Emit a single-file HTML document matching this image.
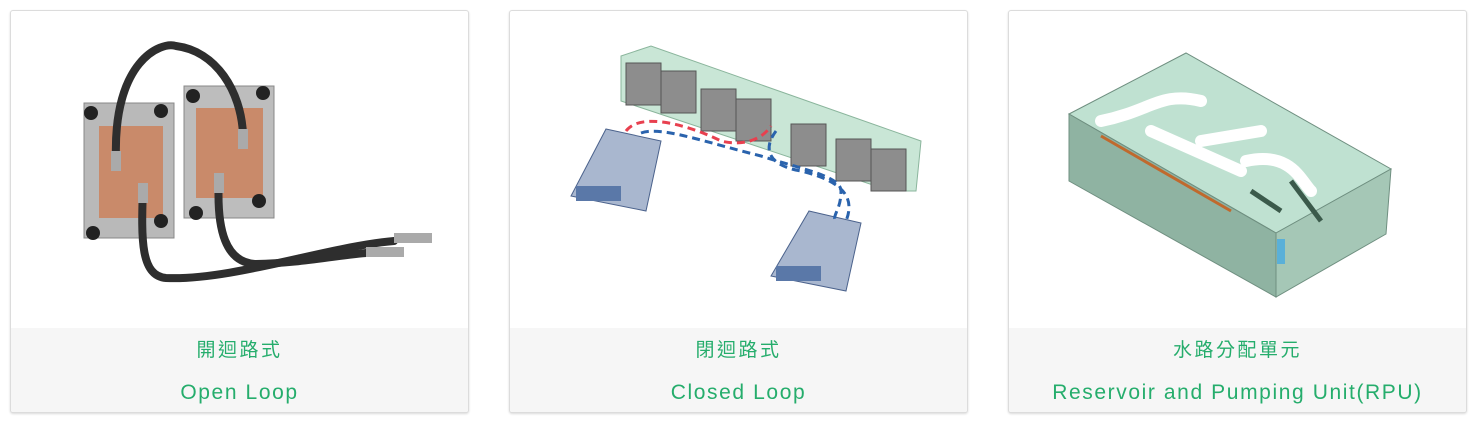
<!DOCTYPE html>
<html><head><meta charset="utf-8"><style>
html,body{margin:0;padding:0;background:#fff;width:1476px;height:422px;overflow:hidden}
.card{position:absolute;top:10px;width:457px;height:401px;border:1px solid #dcdcdc;border-radius:3px;background:#fff;box-shadow:0 1px 2px rgba(0,0,0,.15);overflow:hidden}
.cap{position:absolute;left:0;right:0;top:317px;bottom:0;background:#f6f6f6;text-align:center;color:#25ad6c;font-family:"Liberation Sans","Noto Sans CJK TC",sans-serif}
.zh{position:absolute;left:0;right:0;top:7px;font-size:19px;letter-spacing:2.5px}
.en{position:absolute;left:0;right:0;top:53px;font-size:21px;letter-spacing:1.6px}
svg{position:absolute;left:0;top:0}
</style></head><body>
<div class="card" style="left:10px">
<svg width="457" height="317" viewBox="10 10 457 317">
<rect x="83" y="102" width="90" height="135" fill="#b9b9b9" stroke="#888"/>
<rect x="98" y="125" width="64" height="92" fill="#c98a6a"/>
<rect x="183" y="85" width="90" height="132" fill="#bdbdbd" stroke="#888"/>
<rect x="195" y="107" width="67" height="90" fill="#c98a6a"/>
<g fill="#222"><circle cx="90" cy="112" r="7"/><circle cx="160" cy="110" r="7"/><circle cx="92" cy="232" r="7"/><circle cx="160" cy="220" r="7"/><circle cx="192" cy="95" r="7"/><circle cx="262" cy="92" r="7"/><circle cx="195" cy="212" r="7"/><circle cx="258" cy="200" r="7"/></g>
<g fill="none" stroke="#2e2e2e" stroke-width="8" stroke-linecap="round">
<path d="M115 157 C112 60 160 40 175 45 C215 50 240 90 242 133"/>
<path d="M142 187 C140 240 140 275 165 277 C230 280 330 245 393 240"/>
<path d="M218 177 C215 230 225 262 255 263 C300 262 330 255 365 252"/>
</g>
<g fill="#aaa"><rect x="393" y="232" width="38" height="10"/><rect x="365" y="246" width="38" height="10"/><rect x="110" y="150" width="10" height="20"/><rect x="137" y="182" width="10" height="20"/><rect x="213" y="172" width="10" height="20"/><rect x="237" y="128" width="10" height="20"/></g>
</svg>
<div class="cap"><div class="zh">開迴路式</div><div class="en">Open Loop</div></div></div>

<div class="card" style="left:509px">
<svg width="457" height="317" viewBox="509 10 457 317">
<polygon points="620,55 650,45 920,140 915,190 890,190 620,100" fill="#c9e6d6" stroke="#8ab59c"/>
<g fill="#8d8d8d" stroke="#555"><rect x="625" y="62" width="35" height="42"/><rect x="660" y="70" width="35" height="42"/><rect x="700" y="88" width="35" height="42"/><rect x="735" y="98" width="35" height="42"/><rect x="790" y="123" width="35" height="42"/><rect x="835" y="138" width="35" height="42"/><rect x="870" y="148" width="35" height="42"/></g>
<g fill="#a9b7cf" stroke="#4b628c"><polygon points="605,128 660,140 645,210 570,195"/><polygon points="808,210 860,222 845,290 770,275"/></g>
<g fill="#5a78a8"><rect x="575" y="185" width="45" height="15"/><rect x="775" y="265" width="45" height="15"/></g>
<g fill="none" stroke-width="3" stroke-dasharray="8 5">
<path d="M625 130 C640 110 690 125 720 140 C740 145 760 140 770 125" stroke="#e8404f"/>
<path d="M640 132 C660 125 700 140 760 155 C800 168 840 175 840 190 C840 210 830 215 835 220" stroke="#2a63ad"/>
<path d="M775 130 C760 150 770 165 800 170 C840 180 855 195 845 220" stroke="#2a63ad"/>
</g>
</svg>
<div class="cap"><div class="zh">閉迴路式</div><div class="en">Closed Loop</div></div></div>

<div class="card" style="left:1008px">
<svg width="457" height="317" viewBox="1008 10 457 317">
<polygon points="1068,113 1185,52 1390,168 1275,232" fill="#bfe1d1" stroke="#6f8f80"/>
<polygon points="1068,113 1275,232 1275,296 1068,180" fill="#8fb3a2" stroke="#6f8f80"/>
<polygon points="1275,232 1390,168 1385,233 1275,296" fill="#a5c7b6" stroke="#6f8f80"/>
<g fill="none" stroke="#fff" stroke-width="12" stroke-linecap="round"><path d="M1100 120 C1150 110 1160 90 1200 100"/><path d="M1150 130 L1240 170"/><path d="M1200 140 L1260 130"/><path d="M1245 160 C1290 150 1300 180 1310 190"/></g>
<path d="M1100 135 L1230 210" stroke="#c0692d" stroke-width="3"/>
<g stroke="#3b5a4b" stroke-width="5"><path d="M1250 190 L1280 210"/><path d="M1290 180 L1320 220"/></g>
<rect x="1276" y="238" width="8" height="25" fill="#5ab0d8"/>
</svg>
<div class="cap"><div class="zh">水路分配單元</div><div class="en">Reservoir and Pumping Unit(RPU)</div></div></div>
</body></html>
